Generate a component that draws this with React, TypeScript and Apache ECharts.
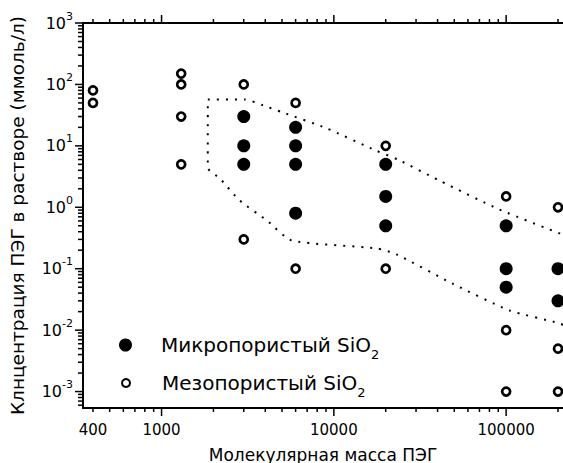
import React, { useEffect, useRef } from 'react';
import * as echarts from 'echarts';

const FONT = '"DejaVu Sans", "Liberation Sans", Arial, sans-serif';

// axis ranges
const X_MIN = 350;
const X_MAX = 213800;
const Y_MIN = 0.00054;
const Y_MAX = 1000;

// tick values
const X_MAJOR_TICKS = [1000, 10000, 100000];
const X_DECADES = [100, 1000, 10000, 100000];
const Y_MAJOR_TICKS = [0.001, 0.01, 0.1, 1, 10, 100, 1000];
const Y_DECADES = [0.0001, 0.001, 0.01, 0.1, 1, 10, 100];
const MINOR_MULT = [2, 3, 4, 5, 6, 7, 8, 9];
const X_EXTRA_LABELS = [400];

// series names
const MICRO_NAME = 'Микропористый SiO2';
const MESO_NAME = 'Мезопористый SiO2';

// data: [molecular mass, concentration]
const MICRO: number[][] = [
  [3000, 30], [3000, 10], [3000, 5],
  [6000, 20], [6000, 10], [6000, 5], [6000, 0.8],
  [20000, 5], [20000, 1.5], [20000, 0.5],
  [100000, 0.5], [100000, 0.1], [100000, 0.05],
  [200000, 0.1], [200000, 0.03],
];

const MESO: number[][] = [
  [400, 80], [400, 50],
  [1300, 150], [1300, 100], [1300, 30], [1300, 5],
  [3000, 100], [3000, 0.3],
  [6000, 50], [6000, 0.1],
  [20000, 10], [20000, 0.1],
  [100000, 1.5], [100000, 0.01], [100000, 0.001],
  [200000, 1], [200000, 0.005], [200000, 0.001],
];

// dotted boundary of the region
const BOUNDARY: number[][] = [
  [230000, 0.33], [91400, 0.92], [41000, 2.72], [23500, 6.0], [17700, 8.3],
  [9080, 19.3], [5050, 35], [3880, 45.7], [3040, 57], [1855, 57],
  [1855, 4.4], [2178, 2.96], [2840, 1.29], [4085, 0.61], [5690, 0.289],
  [17700, 0.214], [23100, 0.171], [48900, 0.057], [104800, 0.0209],
  [203700, 0.0129], [230000, 0.011],
];

const isPow10 = (v: number) => {
  const l = Math.log10(v);
  return Math.abs(l - Math.round(l)) < 1e-6;
};

export default function App() {
  const ref = useRef<HTMLDivElement>(null);

  useEffect(() => {
    if (!ref.current) return;
    const chart = echarts.init(ref.current, undefined, { renderer: 'svg' });

    const xMinor: number[] = [];
    X_DECADES.forEach((d) => MINOR_MULT.forEach((m) => {
      const v = d * m;
      if (v >= X_MIN && v <= X_MAX) xMinor.push(v);
    }));
    const yMinor: number[] = [];
    Y_DECADES.forEach((d) => MINOR_MULT.forEach((m) => {
      const v = d * m;
      if (v >= Y_MIN && v <= Y_MAX) yMinor.push(v);
    }));

    const tickData: number[][] = [
      ...X_MAJOR_TICKS.map((v) => [v, 1, 0, 8]),
      ...xMinor.map((v) => [v, 1, 0, 4]),
      ...Y_MAJOR_TICKS.map((v) => [1000, v, 1, 8]),
      ...yMinor.map((v) => [1000, v, 1, 5]),
    ];

    const tickStyle = { stroke: '#000', lineWidth: 1.5 };
    const legendText = (padLeft: number) => ({
      fontFamily: FONT, fontSize: 20, color: '#000', padding: [0, 0, 0, padLeft],
      rich: { sub: { fontFamily: FONT, fontSize: 13, color: '#000', padding: [18, 0, 0, 0] } },
    });

    chart.setOption({
      animation: false,
      backgroundColor: '#fff',
      grid: {
        left: 83, right: 0, top: 23, bottom: 55,
        containLabel: false, outerBoundsMode: 'none',
      },
      xAxis: [
        {
          type: 'log', logBase: 10, min: X_MIN, max: X_MAX,
          position: 'bottom',
          name: 'Молекулярная масса ПЭГ',
          nameLocation: 'middle', nameGap: 38,
          nameTextStyle: { fontFamily: FONT, fontSize: 17, color: '#000' },
          axisLine: { show: true, lineStyle: { color: '#000', width: 2 } },
          axisTick: { show: false },
          splitLine: { show: false },
          minorTick: { show: false },
          axisLabel: {
            margin: 14, fontFamily: FONT, fontSize: 15, color: '#000',
            showMinLabel: true, showMaxLabel: true,
            formatter: (v: number) => (isPow10(v) ? String(Math.round(v)) : ''),
          },
        },
        {
          type: 'log', logBase: 10, min: X_MIN, max: X_MAX,
          position: 'top',
          axisLine: { show: true, lineStyle: { color: '#000', width: 2 } },
          axisTick: { show: false },
          axisLabel: { show: false },
          splitLine: { show: false },
        },
      ],
      yAxis: {
        type: 'log', logBase: 10, min: Y_MIN, max: Y_MAX,
        name: 'Клнцентрация ПЭГ в растворе (ммоль/л)',
        nameLocation: 'middle', nameGap: 56,
        nameTextStyle: { fontFamily: FONT, fontSize: 18.5, color: '#000' },
        axisLine: { show: true, lineStyle: { color: '#000', width: 2 } },
        axisTick: { show: false },
        splitLine: { show: false },
        axisLabel: {
          margin: 10, color: '#000', fontFamily: FONT,
          formatter: (v: number) => {
            if (!isPow10(v)) return '';
            const n = Math.round(Math.log10(v));
            return `{b|10}{s|${n}}`;
          },
          rich: {
            b: { fontSize: 16, fontFamily: FONT, color: '#000' },
            s: { fontSize: 11, fontFamily: FONT, color: '#000', padding: [0, 0, 14, 0] },
          },
        },
      },
      legend: [
        {
          data: [MICRO_NAME],
          orient: 'vertical', left: 119, top: 335, padding: 0,
          itemWidth: 13, itemHeight: 13, selectedMode: false,
          itemStyle: { opacity: 1 },
          formatter: (name: string) => name.replace('SiO2', 'SiO{sub|2}'),
          textStyle: legendText(24),
        },
        {
          data: [MESO_NAME],
          orient: 'vertical', left: 121, top: 373, padding: 0,
          itemWidth: 8, itemHeight: 8, selectedMode: false,
          itemStyle: { opacity: 1 },
          formatter: (name: string) => name.replace('SiO2', 'SiO{sub|2}'),
          textStyle: legendText(27),
        },
      ],
      series: [
        {
          type: 'line', name: 'boundary', data: BOUNDARY,
          symbol: 'none', showSymbol: false, smooth: 0.2, clip: true, silent: true,
          lineStyle: { color: '#000', width: 2, type: [2, 7] },
          z: 1,
        },
        {
          type: 'custom', name: 'ticks', data: tickData, clip: false, silent: true, z: 5,
          renderItem: (params: any, api: any) => {
            const kind = api.value(2);
            const len = api.value(3);
            const p = api.coord([api.value(0), api.value(1)]);
            const cs = params.coordSys;
            if (kind === 0) {
              const top = cs.y;
              const bottom = cs.y + cs.height;
              return {
                type: 'group',
                children: [
                  { type: 'line', shape: { x1: p[0], y1: bottom, x2: p[0], y2: bottom + len }, style: tickStyle },
                  { type: 'line', shape: { x1: p[0], y1: top, x2: p[0], y2: top - len }, style: tickStyle },
                ],
              };
            }
            const left = cs.x;
            return { type: 'line', shape: { x1: left, y1: p[1], x2: left - len, y2: p[1] }, style: tickStyle };
          },
        },
        {
          type: 'custom', name: 'extraLabels', data: X_EXTRA_LABELS.map((v) => [v, Y_MIN]),
          clip: false, silent: true, z: 5,
          renderItem: (params: any, api: any) => {
            const p = api.coord([api.value(0), api.value(1)]);
            const cs = params.coordSys;
            return {
              type: 'text',
              x: p[0], y: cs.y + cs.height + 14,
              style: {
                text: String(api.value(0)), fill: '#000', fontSize: 15, fontFamily: FONT,
                align: 'center', verticalAlign: 'top',
              },
            };
          },
        },
        {
          type: 'scatter', name: MICRO_NAME, data: MICRO,
          symbol: 'circle', symbolSize: 13, clip: false, z: 3,
          itemStyle: { color: '#000', opacity: 1 },
        },
        {
          type: 'scatter', name: MESO_NAME, data: MESO,
          symbol: 'circle', symbolSize: 8, clip: false, z: 3,
          itemStyle: { color: '#fff', borderColor: '#000', borderWidth: 2.7, opacity: 1 },
        },
      ],
    });

    return () => chart.dispose();
  }, []);

  return (
    <div
      ref={ref}
      style={{ position: 'fixed', left: 0, top: 0, width: 563, height: 463, background: '#fff' }}
    />
  );
}
